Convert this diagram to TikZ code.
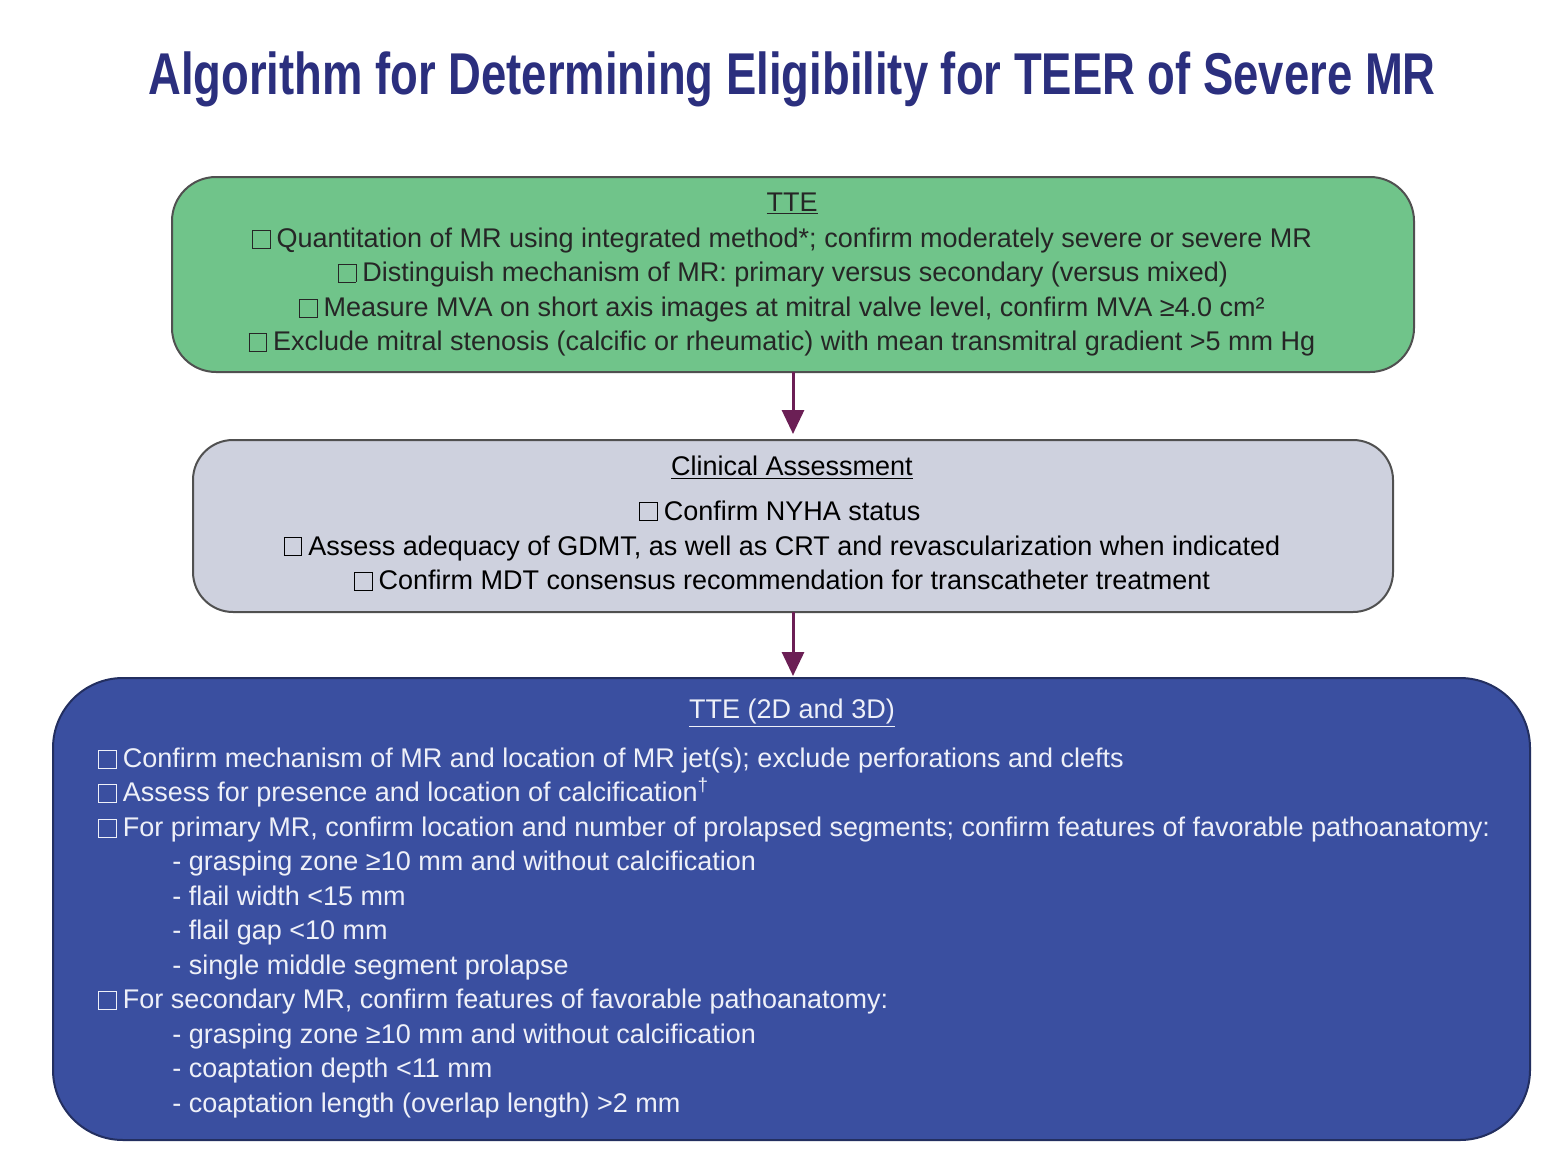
\documentclass[tikz,border=0pt]{standalone}
\usepackage{fontspec}
\setmainfont{Liberation Sans}[FakeStretch=1.0]
\newfontfamily\titlefont{Liberation Sans}[FakeStretch=0.77]
\usetikzlibrary{arrows.meta}
\definecolor{titleblue}{HTML}{2B2F7E}
\definecolor{boxgreen}{HTML}{70C48A}
\definecolor{boxgray}{HTML}{CED1DE}
\definecolor{boxblue}{HTML}{3A4FA0}
\definecolor{arrowc}{HTML}{6B1F55}
\definecolor{edgegray}{HTML}{505050}
\definecolor{darktext}{HTML}{262626}
\definecolor{lighttext}{HTML}{EEF0F8}
\newcommand{\cbx}{{\setlength{\fboxsep}{0pt}\setlength{\fboxrule}{0.45pt}\fbox{\rule{0pt}{0.62em}\hspace{0.62em}}}\hspace{0.22em}}
\tikzset{
  panel/.style={draw=edgegray, line width=1pt, inner sep=0pt, outer sep=0pt},
  bodytext/.style={inner sep=0pt, font=\fontsize{13.5}{16}\selectfont},
  hdr/.style={bodytext, anchor=base},
  cline/.style={bodytext, anchor=base},
  lline/.style={bodytext, anchor=base west},
  flowarrow/.style={draw=arrowc, line width=1.5pt, -{Triangle[width=11pt,length=12pt]}}
}
\begin{document}
\begin{tikzpicture}[x=0.5pt,y=-0.5pt]
\useasboundingbox (0,0) rectangle (1558,1172);
\node[anchor=base, inner sep=0pt, text=titleblue, font=\titlefont\bfseries\fontsize{29.5}{34}\selectfont] (title) at (792,95) {Algorithm for Determining Eligibility for TEER of Severe MR};

% boxes
\node[panel, fill=boxgreen, rounded corners=22pt, minimum width=621pt, minimum height=97.5pt] (tte) at (793,274.5) {};
\node[panel, fill=boxgray, rounded corners=20pt, minimum width=600pt, minimum height=86pt] (clin) at (793,526) {};
\node[panel, fill=boxblue, draw=boxblue!60!black, rounded corners=35pt, minimum width=738.5pt, minimum height=231pt] (tte3) at (791.5,909) {};

\draw[flowarrow, shorten >=3pt] (tte.south) -- (clin.north);
\draw[flowarrow, shorten >=1pt] (clin.south) -- (clin.south |- tte3.north);

% box 1 text
\begin{scope}[every node/.append style={text=darktext}]
\node[hdr] (h1) at (792,211) {\underline{TTE}};
\node[cline] (a1) at (782,247.5) {\cbx Quantitation of MR using integrated method*; confirm moderately severe or severe MR};
\node[cline] (a2) at (783,281.5) {\cbx Distinguish mechanism of MR: primary versus secondary (versus mixed)};
\node[cline] (a3) at (782,316.5) {\cbx Measure MVA on short axis images at mitral valve level, confirm MVA ≥4.0 cm²};
\node[cline] (a4) at (782,350.5) {\cbx Exclude mitral stenosis (calcific or rheumatic) with mean transmitral gradient >5 mm Hg};
\end{scope}

% box 2 text
\begin{scope}[every node/.append style={text=black}]
\node[hdr] (h2) at (792,475) {\underline{Clinical Assessment}};
\node[cline] (b1) at (780,520) {\cbx Confirm NYHA status};
\node[cline] (b2) at (782,555) {\cbx Assess adequacy of GDMT, as well as CRT and revascularization when indicated};
\node[cline] (b3) at (782,589.5) {\cbx Confirm MDT consensus recommendation for transcatheter treatment};
\end{scope}

% box 3 text
\begin{scope}[every node/.append style={text=lighttext}]
\node[hdr] (h3) at (792,718) {\underline{TTE (2D and 3D)}};
\node[lline] (c1) at (98,767.5) {\cbx Confirm mechanism of MR and location of MR jet(s); exclude perforations and clefts};
\node[lline] (c2) at (98,801.5) {\cbx Assess for presence and location of calcification\textsuperscript{†}};
\node[lline] (c3) at (98,836.5) {\cbx For primary MR, confirm location and number of prolapsed segments; confirm features of favorable pathoanatomy:};
\node[lline] (c4) at (172,870.5) {- grasping zone ≥10 mm and without calcification};
\node[lline] (c5) at (172,905.5) {- flail width <15 mm};
\node[lline] (c6) at (172,939.5) {- flail gap <10 mm};
\node[lline] (c7) at (172,974.5) {- single middle segment prolapse};
\node[lline] (c8) at (98,1008.5) {\cbx For secondary MR, confirm features of favorable pathoanatomy:};
\node[lline] (c9) at (172,1043.5) {- grasping zone ≥10 mm and without calcification};
\node[lline] (c10) at (172,1077.5) {- coaptation depth <11 mm};
\node[lline] (c11) at (172,1112.5) {- coaptation length (overlap length) >2 mm};
\end{scope}
\end{tikzpicture}
\end{document}
